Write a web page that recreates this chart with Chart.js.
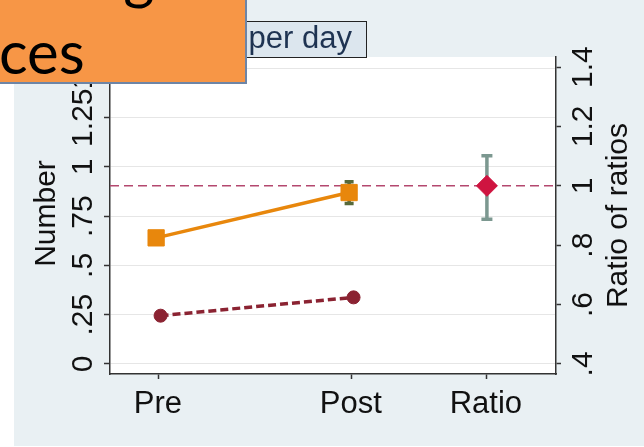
<!DOCTYPE html>
<html><head><meta charset="utf-8">
<script src="https://cdn.jsdelivr.net/npm/chart.js@4/dist/chart.umd.min.js"></script>
<style>html,body{margin:0;padding:0;background:#fff;}canvas{display:block;}</style>
</head><body>
<canvas id="c" width="644" height="447"></canvas>
<script>
// ---- data ----
const categories = ['Pre', 'Post', 'Ratio'];
const categoryPos = [1, 2, 2.7];
const orangeValues = [0.64, 0.87];
const orangeCI = [null, [0.815, 0.925]];
const maroonValues = [0.245, 0.338];
const ratioValues = [1.0];
const ratioCI = [[0.887, 1.101]];
const refRatio = 1;
const leftTicks = [0, 0.25, 0.5, 0.75, 1, 1.25, 1.5];
const leftLabels = ['0', '.25', '.5', '.75', '1', '1.25', '1.5'];
const rightTicks = [0.4, 0.6, 0.8, 1, 1.2, 1.4];
const rightLabels = ['.4', '.6', '.8', '1', '1.2', '1.4'];
const leftTitle = 'Number';
const rightTitle = 'Ratio of ratios';
const titleText = 'per day';
const overlayLines = ['asting', 'ces'];

// ---- styles ----
const ORANGE = '#e8870c', MAROON = '#8b2332', RED = '#cf1440';
const FONT = '"Liberation Sans", Arial, sans-serif';
const dodgeOrange = -0.014, dodgeMaroon = 0.009;

const bgPlugin = {
  id: 'bg',
  beforeDraw(chart) {
    const { ctx, chartArea: a } = chart;
    ctx.save();
    ctx.fillStyle = '#ffffff';
    ctx.fillRect(0, 0, chart.width, chart.height);
    ctx.fillStyle = '#e9f0f3';
    ctx.fillRect(14, 0, chart.width - 14, chart.height - 1);
    ctx.fillStyle = '#ffffff';
    ctx.fillRect(a.left, a.top, a.right - a.left, a.bottom - a.top);
    ctx.restore();
  }
};

const errPlugin = {
  id: 'err',
  beforeDatasetsDraw(chart) {
    const { ctx, chartArea: a, scales } = chart;
    const x = scales.x, y = scales.y, y2 = scales.y2;
    ctx.save();
    const ry = y2.getPixelForValue(refRatio);
    ctx.strokeStyle = '#b4486f';
    ctx.lineWidth = 1.5;
    ctx.setLineDash([9, 5]);
    ctx.beginPath(); ctx.moveTo(a.left, ry); ctx.lineTo(a.right, ry); ctx.stroke();
    ctx.setLineDash([]);
    function ci(px, p1, p2, color, cap) {
      ctx.strokeStyle = color;
      ctx.lineWidth = 3.5;
      ctx.lineCap = 'butt';
      ctx.beginPath();
      ctx.moveTo(px, p1); ctx.lineTo(px, p2);
      ctx.moveTo(px - cap, p1); ctx.lineTo(px + cap, p1);
      ctx.moveTo(px - cap, p2); ctx.lineTo(px + cap, p2);
      ctx.stroke();
    }
    orangeCI.forEach((c, i) => {
      if (!c) return;
      ci(x.getPixelForValue(categoryPos[i] + dodgeOrange), y.getPixelForValue(c[0]), y.getPixelForValue(c[1]), '#56693a', 4.5);
    });
    ratioCI.forEach((c) => {
      ci(x.getPixelForValue(categoryPos[2]), y2.getPixelForValue(c[0]), y2.getPixelForValue(c[1]), '#7c9890', 5.5);
    });
    ctx.restore();
  }
};

function rotText(ctx, text, bx, cy) {
  ctx.save();
  ctx.translate(bx, cy);
  ctx.rotate(-Math.PI / 2);
  ctx.textAlign = 'center';
  ctx.textBaseline = 'alphabetic';
  ctx.fillText(text, 0, 0);
  ctx.restore();
}

const labelPlugin = {
  id: 'labels',
  afterDraw(chart) {
    const { ctx, chartArea: a, scales } = chart;
    const x = scales.x, y = scales.y, y2 = scales.y2;
    ctx.save();
    ctx.fillStyle = '#111111';
    ctx.font = '30px ' + FONT;
    leftTicks.forEach((v, i) => rotText(ctx, leftLabels[i], 92, y.getPixelForValue(v)));
    rightTicks.forEach((v, i) => rotText(ctx, rightLabels[i], 592, y2.getPixelForValue(v)));
    const cy = (a.top + a.bottom) / 2;
    rotText(ctx, leftTitle, 55, cy - 2);
    rotText(ctx, rightTitle, 627, cy);
    ctx.font = '31px ' + FONT;
    ctx.textAlign = 'center';
    ctx.textBaseline = 'alphabetic';
    categories.forEach((c, i) => ctx.fillText(c, x.getPixelForValue(categoryPos[i]) - 1, 413));

    // title box
    ctx.fillStyle = '#dce6ee';
    ctx.fillRect(150, 21, 217, 36);
    ctx.strokeStyle = '#222222';
    ctx.lineWidth = 1;
    ctx.strokeRect(150.5, 21.5, 216, 36);
    ctx.fillStyle = '#1e3352';
    ctx.font = '31px ' + FONT;
    ctx.textAlign = 'right';
    ctx.fillText(titleText, 352, 48);

    // overlay box
    ctx.fillStyle = '#f79646';
    ctx.fillRect(0, 0, 247, 83);
    ctx.strokeStyle = '#6d85a6';
    ctx.lineWidth = 2;
    ctx.beginPath(); ctx.moveTo(246, 0); ctx.lineTo(246, 83); ctx.lineTo(0, 83); ctx.stroke();
    ctx.fillStyle = '#000000';
    ctx.font = '60px Lato, "Open Sans", sans-serif';
    ctx.textAlign = 'left';
    ctx.fillText(overlayLines[0], -3, -2);
    ctx.fillText(overlayLines[1], -1, 74);
    ctx.restore();
  }
};

new Chart(document.getElementById('c'), {
  type: 'scatter',
  data: {
    datasets: [
      {
        data: orangeValues.map((v, i) => ({ x: categoryPos[i] + dodgeOrange, y: v })),
        showLine: true, borderColor: ORANGE, backgroundColor: ORANGE, borderWidth: 3.5,
        pointStyle: 'rect', pointRadius: 11.5, pointBorderWidth: 1, pointBorderColor: ORANGE, yAxisID: 'y'
      },
      {
        data: maroonValues.map((v, i) => ({ x: categoryPos[i] + dodgeMaroon, y: v })),
        showLine: true, borderColor: MAROON, backgroundColor: MAROON, borderWidth: 3.5, borderDash: [8, 4],
        pointStyle: 'circle', pointRadius: 6.5, pointBorderWidth: 1, pointBorderColor: MAROON, yAxisID: 'y'
      },
      {
        data: ratioValues.map(v => ({ x: categoryPos[2], y: v })),
        showLine: false, borderColor: RED, backgroundColor: RED,
        pointStyle: 'rectRot', pointRadius: 10.5, pointBorderWidth: 1, yAxisID: 'y2'
      }
    ]
  },
  options: {
    responsive: false, animation: false, devicePixelRatio: 1,
    layout: { padding: { top: 57, left: 0, right: 0, bottom: 0 } },
    plugins: { legend: { display: false }, tooltip: { enabled: false } },
    scales: {
      x: {
        type: 'linear', position: 'bottom', min: 0.747, max: 3.058,
        afterBuildTicks: s => { s.ticks = categoryPos.map(v => ({ value: v })); },
        afterFit: s => { s.height = 73; },
        ticks: { autoSkip: false, color: 'rgba(0,0,0,0)' },
        grid: { drawOnChartArea: false, tickLength: 5, tickColor: '#333', tickWidth: 1.5 },
        border: { color: '#333', width: 1.5 }
      },
      y: {
        type: 'linear', position: 'left', min: -0.051, max: 1.558,
        afterBuildTicks: s => { s.ticks = leftTicks.map(v => ({ value: v })); },
        afterFit: s => { s.width = 110; },
        ticks: { autoSkip: false, color: 'rgba(0,0,0,0)' },
        grid: { color: '#e6e6e6', lineWidth: 1, tickLength: 6, tickColor: '#333', tickWidth: 1.5 },
        border: { color: '#333', width: 1.5 }
      },
      y2: {
        type: 'linear', position: 'right', min: 0.366, max: 1.434,
        afterBuildTicks: s => { s.ticks = rightTicks.map(v => ({ value: v })); },
        afterFit: s => { s.width = 88; },
        ticks: { autoSkip: false, color: 'rgba(0,0,0,0)' },
        grid: { drawOnChartArea: false, tickLength: 5, tickColor: '#333', tickWidth: 1.5 },
        border: { color: '#333', width: 1.5 }
      }
    }
  },
  plugins: [bgPlugin, errPlugin, labelPlugin]
});
</script>
</body></html>
